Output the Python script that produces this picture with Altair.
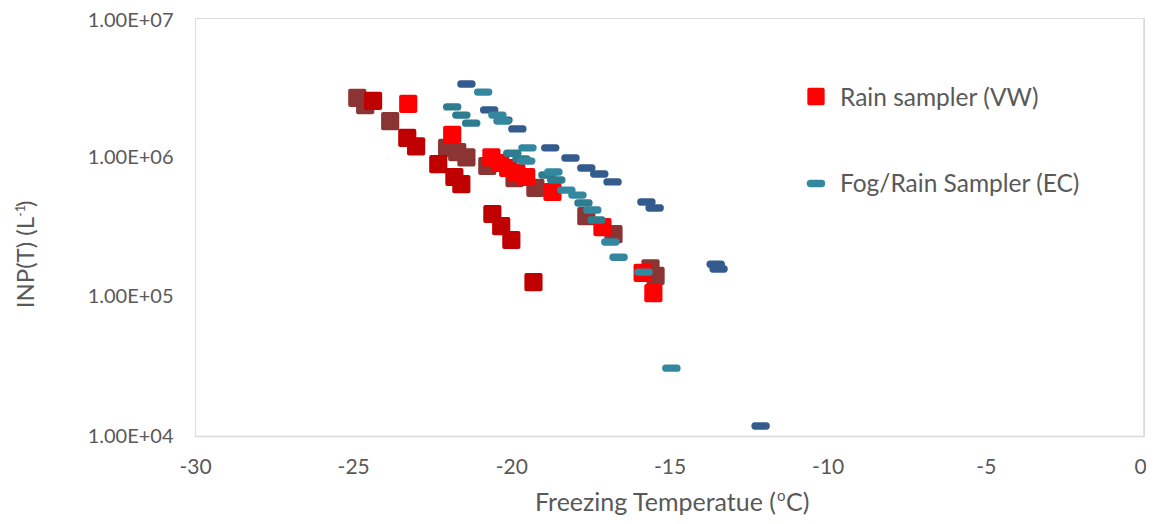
import altair as alt
import pandas as pd

# ---- data ----
brown_t = [-24.87, -24.62, -23.83, -22.03, -21.71, -21.42, -20.76, -19.90, -19.24, -17.63, -16.77, -15.60, -15.44]
brown_v = [2.67e6, 2.37e6, 1.82e6, 1.17e6, 1.09e6, 1.00e6, 8.67e5, 7.10e5, 6.03e5, 3.79e5, 2.81e5, 1.60e5, 1.41e5]
darkred_t = [-24.37, -23.29, -23.01, -22.31, -21.80, -21.58, -20.60, -20.32, -20.00, -19.30]
darkred_v = [2.54e6, 1.38e6, 1.20e6, 8.95e5, 7.23e5, 6.43e5, 3.92e5, 3.21e5, 2.55e5, 1.27e5]
red_t = [-23.26, -21.87, -20.63, -20.35, -20.10, -19.84, -19.53, -18.70, -17.12, -15.85, -15.51]
red_v = [2.42e6, 1.45e6, 1.00e6, 9.10e5, 8.38e5, 7.71e5, 7.23e5, 5.64e5, 3.16e5, 1.48e5, 1.06e5]
blue_t = [-21.42, -20.70, -20.25, -19.81, -18.77, -18.13, -17.63, -17.22, -16.80, -15.73, -15.47, -13.54, -13.45, -12.12]
blue_v = [3.36e6, 2.19e6, 1.85e6, 1.60e6, 1.17e6, 9.89e5, 8.38e5, 7.59e5, 6.66e5, 4.78e5, 4.33e5, 1.71e5, 1.58e5, 1.18e4]
teal2_t = [-21.87, -21.58, -21.27, -19.97, -19.68, -18.86, -18.58, -17.72, -17.31]
teal2_v = [2.30e6, 2.01e6, 1.76e6, 1.07e6, 9.72e5, 7.47e5, 6.87e5, 4.70e5, 3.55e5]
teal_t = [-20.89, -20.44, -20.28, -19.49, -19.53, -18.67, -18.26, -17.91, -17.44, -16.87, -16.61, -15.82, -14.94]
teal_v = [2.94e6, 2.01e6, 1.82e6, 1.17e6, 9.40e5, 7.84e5, 5.82e5, 5.36e5, 4.19e5, 2.47e5, 1.92e5, 1.50e5, 3.07e4]

x_ticks = [-30, -25, -20, -15, -10, -5, 0]
y_ticks = [1e4, 1e5, 1e6, 1e7]

square_series = ["VW-a", "VW-b", "VW-c"]
square_colors = ["#8B3434", "#C00000", "#FF0000"]
dash_series = ["EC-a", "EC-b", "EC-c"]
dash_colors = ["#345B8D", "#2E7C8E", "#3388A0"]

def frame(names, ts, vs):
    rows = []
    for n, t, v in zip(names, ts, vs):
        for a, b in zip(t, v):
            rows.append({"series": n, "T": a, "INP": b})
    return pd.DataFrame(rows)

sq_df = frame(square_series, [brown_t, darkred_t, red_t], [brown_v, darkred_v, red_v])
dash_df = frame(dash_series, [blue_t, teal2_t, teal_t], [blue_v, teal2_v, teal_v])

FONT = "Lato"
GREY = "#595959"

SQUARE = "M -0.78 -1 L 0.78 -1 Q 1 -1 1 -0.78 L 1 0.78 Q 1 1 0.78 1 L -0.78 1 Q -1 1 -1 0.78 L -1 -0.78 Q -1 -1 -0.78 -1 Z"
DASH = "M -0.62 -0.4 L 0.62 -0.4 Q 1 -0.4 1 0 Q 1 0.4 0.62 0.4 L -0.62 0.4 Q -1 0.4 -1 0 Q -1 -0.4 -0.62 -0.4 Z"

W, H = 949, 418

xs = alt.Scale(domain=[-30, 0], nice=False, zero=False)
ys = alt.Scale(type="log", domain=[1e4, 1e7], nice=False)

x_axis = alt.Axis(values=x_ticks, title=None, grid=False, ticks=False,
                  domainColor="#D9D9D9", domainWidth=1.5, labelFlush=False,
                  labelColor=GREY, labelFont=FONT, labelFontSize=21, labelPadding=20,
                  labelOffset={"condition": {"test": "datum.value == 0", "value": -4}, "value": 0},
                  labelExpr="replace(datum.label, '\u2212', '-')")
y_axis = alt.Axis(values=y_ticks, title=None, grid=False, ticks=False, domain=False,
                  labelColor=GREY, labelFont=FONT, labelFontSize=20, labelPadding=22,
                  labelOffset={"condition": {"test": "datum.value >= 9999999", "value": 2}, "value": 0},
                  labelExpr="'1.00E+0' + round(log(datum.value) / LN10)")

squares = alt.Chart(sq_df).mark_point(filled=True, shape=SQUARE, size=330, opacity=1, strokeWidth=0).encode(
    x=alt.X("T:Q", scale=xs, axis=x_axis),
    y=alt.Y("INP:Q", scale=ys, axis=y_axis),
    color=alt.Color("series:N", scale=alt.Scale(domain=square_series, range=square_colors), legend=None),
)

dashes = alt.Chart(dash_df).mark_point(filled=True, shape=DASH, size=340, opacity=1, strokeWidth=0).encode(
    x=alt.X("T:Q", scale=xs),
    y=alt.Y("INP:Q", scale=ys),
    fill=alt.Fill("series:N", scale=alt.Scale(domain=dash_series, range=dash_colors), legend=None),
)

right_line = alt.Chart().mark_rule(color="#D9D9D9", strokeWidth=1.5).encode(
    x=alt.value(W), y=alt.value(0), y2=alt.value(H))

def txt(text, x, y, size=24, align="left", angle=0, baseline="middle"):
    kw = dict(text=text, font=FONT, fontSize=size, color=GREY, align=align, baseline=baseline)
    if angle:
        kw["angle"] = angle
    return alt.Chart().mark_text(**kw).encode(x=alt.value(x), y=alt.value(y))

# legend
leg_sq = alt.Chart().mark_point(filled=True, shape=SQUARE, size=300, opacity=1, color="#FF0000").encode(
    x=alt.value(621), y=alt.value(78.5))
leg_dash = alt.Chart().mark_point(filled=True, shape=DASH, size=340, opacity=1, color="#3388A0").encode(
    x=alt.value(621), y=alt.value(165.5))
leg_t1 = txt("Rain sampler (VW)", 645, 81, size=24.5)
leg_t2 = txt("Fog/Rain Sampler (EC)", 645, 167, size=24.5)

# axis titles with superscripts
xt1 = txt("Freezing Temperatue (", 581, 485, size=25, align="right")
xt2 = txt("o", 582, 478, size=15)
xt3 = txt("C)", 591, 485, size=25)

yt1 = txt("INP(T) (L", -168, 199, size=24, align="right", angle=270)
yt2 = txt("-1", -174, 199, size=13, align="left", angle=270)
yt3 = txt(")", -168, 189, size=24, align="left", angle=270)

chart = alt.layer(
    right_line, squares, dashes, leg_sq, leg_dash, leg_t1, leg_t2,
    xt1, xt2, xt3, yt1, yt2, yt3
).properties(
    width=W, height=H,
    autosize=alt.AutoSizeParams(type="none"),
    padding={"left": 187, "top": 10, "right": 2, "bottom": 80},
).configure_view(stroke=None).configure(background="white")

chart.save("out.html", embed_options={"renderer": "svg", "actions": False})
